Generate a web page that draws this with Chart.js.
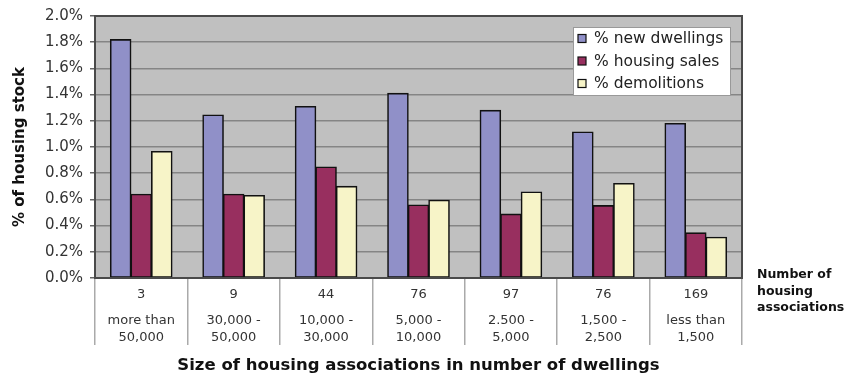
<!DOCTYPE html>
<html>
<head>
<meta charset="utf-8">
<script src="https://cdn.jsdelivr.net/npm/chart.js@4/dist/chart.umd.min.js"></script>
<style>
html,body{margin:0;padding:0;background:#fff;}
#wrap{width:849px;height:376px;position:relative;}
</style>
</head>
<body>
<div id="wrap"><canvas id="c" width="849" height="376"></canvas></div>
<script>
const counts = ["3", "9", "44", "76", "97", "76", "169"];
const sizeLabels = [
  ["more than", "50,000"],
  ["30,000 -", "50,000"],
  ["10,000 -", "30,000"],
  ["5,000 -", "10,000"],
  ["2.500 -", "5,000"],
  ["1,500 -", "2,500"],
  ["less than", "1,500"]
];
const newDwellings = [1.82, 1.245, 1.31, 1.41, 1.28, 1.115, 1.18];
const housingSales = [0.64, 0.64, 0.848, 0.558, 0.488, 0.553, 0.345];
const demolitions = [0.966, 0.63, 0.70, 0.594, 0.657, 0.722, 0.312];
const seriesNames = ["% new dwellings", "% housing sales", "% demolitions"];
const yTicks = [0, 0.2, 0.4, 0.6, 0.8, 1.0, 1.2, 1.4, 1.6, 1.8, 2.0];
const sideNote = ["Number of", "housing", "associations"];
const xTitle = "Size of housing associations in number of dwellings";
const yTitle = "% of housing stock";

const FONT = "'DejaVu Sans', sans-serif";

const plotBg = {
  id: 'plotBg',
  beforeDraw(chart) {
    const {ctx, chartArea: a} = chart;
    ctx.save();
    ctx.fillStyle = '#c0c0c0';
    ctx.fillRect(a.left, a.top, a.right - a.left, a.bottom - a.top);
    ctx.restore();
  },
  afterDatasetsDraw(chart) {
    const {ctx, chartArea: a} = chart;
    ctx.save();
    ctx.strokeStyle = '#4a4a4a';
    ctx.lineWidth = 2;
    ctx.strokeRect(a.left, a.top, a.right - a.left, a.bottom - a.top);
    ctx.restore();
  }
};

const extras = {
  id: 'extras',
  afterDraw(chart) {
    const {ctx} = chart;
    const xs = chart.scales.x;
    ctx.save();
    ctx.fillStyle = '#333';
    ctx.textAlign = 'center';
    ctx.textBaseline = 'middle';
    ctx.font = "13px " + FONT;
    chart.data.labels.forEach((lab, i) => {
      const x = xs.getPixelForValue(i);
      ctx.fillText(counts[i], x, 295);
      ctx.fillText(sizeLabels[i][0], x, 321);
      ctx.fillText(sizeLabels[i][1], x, 338);
    });
    ctx.fillStyle = '#111';
    ctx.textAlign = 'left';
    ctx.font = "bold 12.5px " + FONT;
    sideNote.forEach((t, i) => ctx.fillText(t, 757, 275 + i * 16.5));
    const lx = 573, ly = 27, lw = 157, lh = 68;
    ctx.fillStyle = '#fff';
    ctx.fillRect(lx, ly, lw, lh);
    ctx.strokeStyle = '#999';
    ctx.lineWidth = 1;
    ctx.strokeRect(lx + 0.5, ly + 0.5, lw, lh);
    ctx.font = "15.5px " + FONT;
    chart.data.datasets.forEach((ds, i) => {
      const cy = 38.5 + i * 22.5;
      ctx.fillStyle = ds.backgroundColor;
      ctx.fillRect(578, cy - 4, 8, 8);
      ctx.strokeStyle = '#111';
      ctx.lineWidth = 1.2;
      ctx.strokeRect(578, cy - 4, 8, 8);
      ctx.fillStyle = '#222';
      ctx.fillText(ds.label, 594, cy + 0.5);
    });
    ctx.restore();
  }
};

const barStyle = {
  categoryPercentage: 0.667,
  barPercentage: 1.0,
  borderColor: '#111',
  borderWidth: 1.6,
  borderSkipped: false,
  inflateAmount: 0.5
};

new Chart(document.getElementById('c'), {
  type: 'bar',
  data: {
    labels: counts,
    datasets: [
      Object.assign({label: seriesNames[0], data: newDwellings, backgroundColor: '#9090c8'}, barStyle),
      Object.assign({label: seriesNames[1], data: housingSales, backgroundColor: '#982f5f'}, barStyle),
      Object.assign({label: seriesNames[2], data: demolitions, backgroundColor: '#f7f4c8'}, barStyle)
    ]
  },
  options: {
    responsive: false,
    animation: false,
    layout: {padding: {top: 13, right: 107, bottom: 0, left: 0}},
    plugins: {
      legend: {display: false},
      tooltip: {enabled: false}
    },
    scales: {
      x: {
        offset: true,
        grid: {
          offset: true,
          drawOnChartArea: false,
          drawTicks: true,
          tickLength: 67,
          color: '#aaa',
          lineWidth: 1.5
        },
        border: {display: false},
        ticks: {display: false},
        title: {
          display: true,
          text: xTitle,
          color: '#111',
          font: {family: FONT, size: 16.5, weight: 'bold'},
          padding: {top: 0, bottom: 0}
        },
        afterFit(s) { s.height = 98; }
      },
      y: {
        min: 0,
        max: 2.0,
        afterBuildTicks(s) { s.ticks = yTicks.map(v => ({value: v})); },
        grid: {
          color: '#858585',
          lineWidth: 1.5,
          tickLength: 5,
          tickColor: '#666'
        },
        border: {display: false},
        ticks: {
          padding: 7,
          color: '#333',
          font: {family: FONT, size: 15},
          callback: v => v.toFixed(1) + '%'
        },
        title: {
          display: true,
          text: yTitle,
          color: '#111',
          font: {family: FONT, size: 15, weight: 'bold'},
          padding: {top: 11, bottom: 0}
        },
        afterFit(s) { s.width = 95; }
      }
    }
  },
  plugins: [plotBg, extras]
});
</script>
</body>
</html>
